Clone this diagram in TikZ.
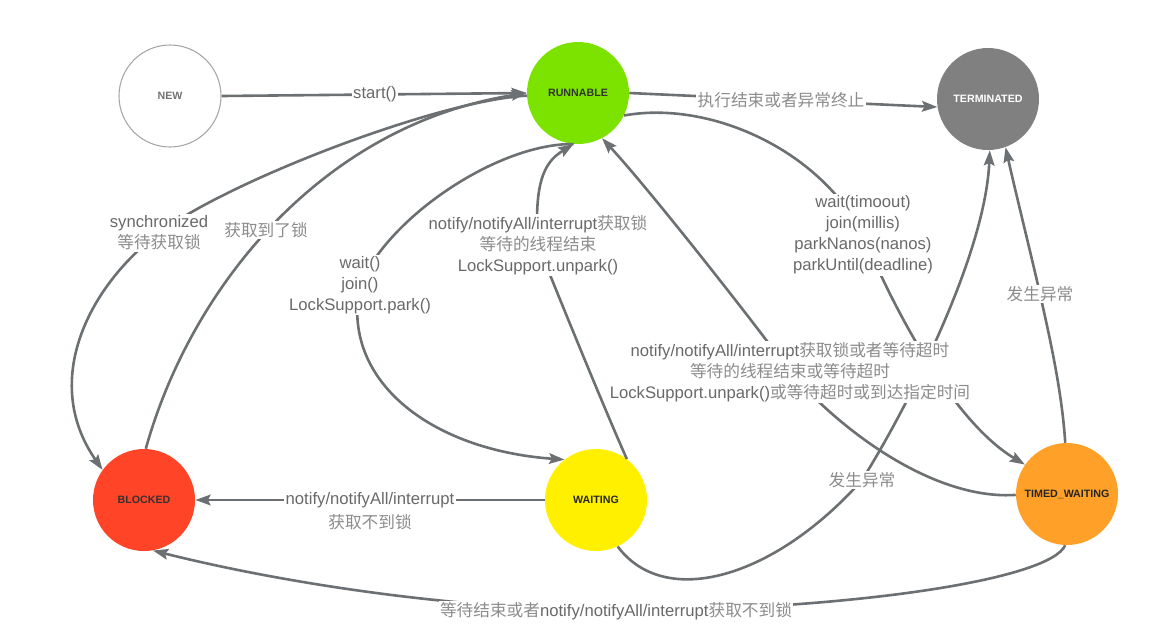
\documentclass[tikz,border=0pt]{standalone}
\usepackage{fontspec}
\setmainfont{Liberation Sans}
\newfontfamily\cjkfont{Noto Sans CJK SC}
\usetikzlibrary{arrows.meta}
\definecolor{edgec}{RGB}{108,112,114}
\definecolor{labc}{RGB}{105,105,105}
\definecolor{zhc}{RGB}{140,140,140}
\definecolor{runc}{RGB}{124,226,0}
\definecolor{termc}{RGB}{128,128,128}
\definecolor{blkc}{RGB}{255,68,40}
\definecolor{waitc}{RGB}{255,240,0}
\definecolor{twc}{RGB}{255,160,40}
\newcommand\zh[1]{{\cjkfont\color{zhc}#1}}
\begin{document}
\begin{tikzpicture}[x=0.75pt,y=-0.75pt,
  state/.style={circle,minimum size=76.5pt,inner sep=0pt,font=\fontsize{8}{9}\selectfont\bfseries},
  edge/.style={draw=edgec,line width=1.95pt,-{Stealth[length=11.5pt,width=8pt,inset=2pt]}},
  lbl/.style={fill=white,inner sep=1pt,text=labc,font=\fontsize{12.5}{15.75}\selectfont,align=center}]
\useasboundingbox (0,0) rectangle (1152,626);
% states
\node[state,draw=black!35,line width=0.8pt,fill=white,text=black!55] (new) at (170,96) {NEW};
\node[state,fill=runc,text=black!80] (run) at (578,93) {RUNNABLE};
\node[state,fill=termc,text=white] (term) at (988,99) {TERMINATED};
\node[state,fill=blkc,text=black!80] (blk) at (144,500) {BLOCKED};
\node[state,fill=waitc,text=black!85] (wait) at (596,500) {WAITING};
\node[state,fill=twc,text=black!85] (tw) at (1067,494) {TIMED\_WAITING};
% label anchor points
\coordinate (cstart) at (375,94);
\coordinate (cend) at (781,100);
\coordinate (cgot) at (266,230);
\coordinate (csync) at (159,233);
\coordinate (cwait) at (360,285);
\coordinate (cnot1) at (538,245);
\coordinate (cnot2) at (790,372);
\coordinate (ctime) at (863,235);
\coordinate (cexc1) at (862,480);
\coordinate (cexc2) at (1040,294);
\coordinate (cwb) at (370,500);
\coordinate (cbot) at (616,611);
% connectors
\draw[edge] (new.east) -- (run.west);
\draw[edge] (run.east) -- (term.189);
\draw[edge] (blk.88) .. controls (190,290) and (320,125) .. (run.180);
\draw[edge] (run.183) .. controls (440,100) and (230,180) .. (csync) .. controls (90,285) and (40,380) .. (blk.144);
\draw[edge] (run.265) .. controls (500,143) and (390,215) .. (cwait) .. controls (340,380) and (430,450) .. (wait.128);
\draw[edge] (wait.53) .. controls (605,410) and (560,300) .. (cnot1) .. controls (533,175) and (548,160) .. (run.265);
\draw[edge] (tw.181) .. controls (940,500) and (850,440) .. (cnot2) .. controls (760,330) and (650,190) .. (run.298);
\draw[edge] (run.334) .. controls (710,100) and (820,150) .. (ctime) .. controls (890,300) and (950,420) .. (tw.145);
\draw[edge] (wait.295) .. controls (665,610) and (775,578) .. (cexc1) .. controls (900,420) and (985,260) .. (term.272);
\draw[edge] (tw.92) .. controls (1062,390) and (1048,330) .. (cexc2) .. controls (1030,250) and (1015,190) .. (term.290);
\draw[edge] (wait.west) -- (blk.east);
\draw[edge] (tw.268) .. controls (1050,580) and (850,610) .. (cbot) .. controls (420,608) and (250,575) .. (blk.280);
% labels
\node[lbl] (lstart) at (cstart) {start()};
\node[lbl] (lend) at (cend) {\zh{执行结束或者异常终止}};
\node[lbl] (lgot) at (cgot) {\zh{获取到了锁}};
\node[lbl] (lsync) at (csync) {synchronized\\\zh{等待获取锁}};
\node[lbl] (lwait) at (cwait) {wait()\\join()\\LockSupport.park()};
\node[lbl] (lnot1) at (cnot1) {notify/notifyAll/interrupt\zh{获取锁}\\\zh{等待的线程结束}\\LockSupport.unpark()};
\node[lbl] (lnot2) at (cnot2) {notify/notifyAll/interrupt\zh{获取锁或者等待超时}\\\zh{等待的线程结束或等待超时}\\LockSupport.unpark()\zh{或等待超时或到达指定时间}};
\node[lbl] (ltime) at (ctime) {wait(timoout)\\join(millis)\\parkNanos(nanos)\\parkUntil(deadline)};
\node[lbl] (lexc1) at (cexc1) {\zh{发生异常}};
\node[lbl] (lexc2) at (cexc2) {\zh{发生异常}};
\node[lbl] (lwb) at (cwb) {notify/notifyAll/interrupt};
\node[lbl,fill=none] (lwb2) at (370,522) {\zh{获取不到锁}};
\node[lbl] (lbot) at (cbot) {\zh{等待结束或者}notify/notifyAll/interrupt\zh{获取不到锁}};
\end{tikzpicture}
\end{document}
